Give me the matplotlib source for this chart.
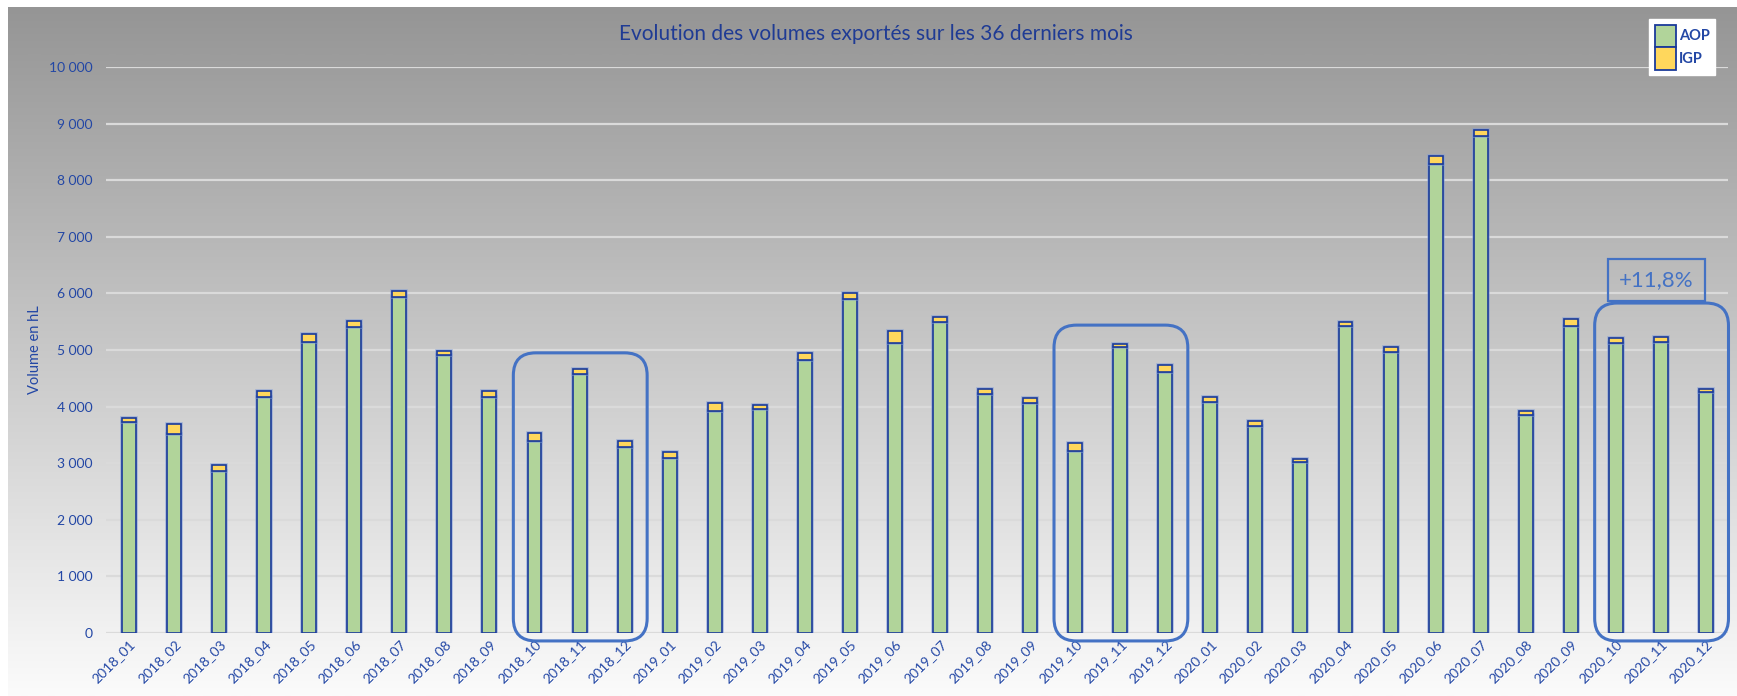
import numpy as np
import matplotlib as mpl
mpl.use("Agg")
import matplotlib.pyplot as plt
from matplotlib.patches import FancyBboxPatch, Patch
from matplotlib.ticker import FuncFormatter, MultipleLocator
import matplotlib.patheffects as pe

plt.rcParams["font.family"] = ["Lato", "DejaVu Sans"]

months = [f"{y}_{m:02d}" for y in (2018, 2019, 2020) for m in range(1, 13)]
aop = [3730, 3520, 2870, 4170, 5150, 5410, 5930, 4915, 4170, 3400, 4580, 3280,
       3100, 3930, 3960, 4820, 5900, 5130, 5500, 4220, 4070, 3220, 5060, 4620,
       4080, 3650, 3020, 5430, 4970, 8280, 8780, 3850, 5430, 5120, 5150, 4250]
total = [3800, 3700, 2970, 4276, 5283, 5512, 6035, 4982, 4270, 3540, 4670, 3390,
         3200, 4060, 4020, 4950, 6000, 5330, 5580, 4320, 4150, 3360, 5110, 4730,
         4170, 3740, 3080, 5490, 5050, 8430, 8890, 3930, 5550, 5210, 5230, 4320]
igp = [t - a for t, a in zip(total, aop)]

# highlighted quarters (first, last index) and the top of each frame
groups = [(9, 11), (21, 23), (33, 35)]
frame_tops = [4950, 5440, 5830]
growth_label = "+11,8%"

C_AOP, C_IGP, C_EDGE = "#b1d49a", "#ffd75c", "#1a3a9a"
C_TXT, C_FRAME = "#2347a5", "#4472c4"

W, H = 17.37, 6.96
fig = plt.figure(figsize=(W, H), dpi=100)
fig.patch.set_facecolor("white")

# gradient chart background
bg = fig.add_axes([0.0045, 0.0, 0.9955, 0.99], zorder=0)
grad = np.linspace(0, 1, 256)[:, None]
cmap = mpl.colors.LinearSegmentedColormap.from_list("g", ["#959595", "#c8c8c8", "#fbfbfb"])
bg.imshow(grad, aspect="auto", cmap=cmap, extent=[0, 1, 0, 1], origin="upper")
bg.set_axis_off()

ax = fig.add_axes([0.0613, 0.0905, 0.9338, 0.8132], zorder=1)
ax.patch.set_alpha(0)
x = np.arange(len(months))
glow = [pe.Stroke(linewidth=2.6, foreground="#7f9bd6", alpha=0.6), pe.Normal()]
b1 = ax.bar(x, aop, width=0.31, color=C_AOP, edgecolor=C_EDGE, lw=1.2, zorder=3)
b2 = ax.bar(x, igp, bottom=aop, width=0.31, color=C_IGP, edgecolor=C_EDGE, lw=1.2, zorder=3)
for r in list(b1) + list(b2):
    r.set_path_effects(glow)

ax.set_xlim(-0.5, len(months) - 0.5)
ax.set_ylim(0, 10000)
ax.yaxis.set_major_locator(MultipleLocator(1000))
ax.yaxis.set_major_formatter(FuncFormatter(lambda v, p: f"{int(v):,}".replace(",", " ")))
ax.grid(axis="y", color="#dadada", lw=1.6, zorder=0)
ax.set_axisbelow(True)
for s in ax.spines.values():
    s.set_visible(False)
ax.tick_params(length=0, colors=C_TXT, labelsize=10)
ax.tick_params(axis="y", pad=10)
ax.set_xticks(x)
ax.set_xticklabels(months, rotation=45, ha="right", rotation_mode="anchor")
ax.set_ylabel("Volume en hL", color=C_TXT, fontsize=10.5, labelpad=5)

# rounded frames around the last quarter of each year
pos = ax.get_position()
px_x = pos.width * W * 100 / len(months)
px_y = pos.height * H * 100 / 10000
for (i0, i1), top in zip(groups, frame_tops):
    fb = FancyBboxPatch((i0 - 0.47, -140), i1 - i0 + 0.97, top + 140,
                        boxstyle="round,pad=0,rounding_size=0.5",
                        mutation_aspect=px_x / px_y, fill=False,
                        ec=C_FRAME, lw=2.2, zorder=4, clip_on=False)
    ax.add_patch(fb)

ax.text(33.9, 6240, growth_label, ha="center", va="center", fontsize=16,
        color=C_FRAME, zorder=5,
        bbox=dict(boxstyle="square,pad=0.5", fc="none", ec=C_FRAME, lw=1.6))

fig.text(0.504, 0.951, "Evolution des volumes exportés sur les 36 derniers mois",
         ha="center", va="center", fontsize=15, color="#1f3b94")

leg = fig.legend([Patch(fc=C_AOP, ec=C_EDGE, lw=1.3), Patch(fc=C_IGP, ec=C_EDGE, lw=1.3)],
                 ["AOP", "IGP"], loc="upper right", bbox_to_anchor=(0.9875, 0.972),
                 frameon=True, fancybox=False, framealpha=1, edgecolor="white",
                 handlelength=1.45, handleheight=2.0, labelspacing=0.0,
                 handletextpad=0.25, borderpad=0.35, borderaxespad=0,
                 prop=dict(weight="bold", size=10.5))
for t in leg.get_texts():
    t.set_color(C_TXT)

fig.savefig("out.png", dpi=100)
